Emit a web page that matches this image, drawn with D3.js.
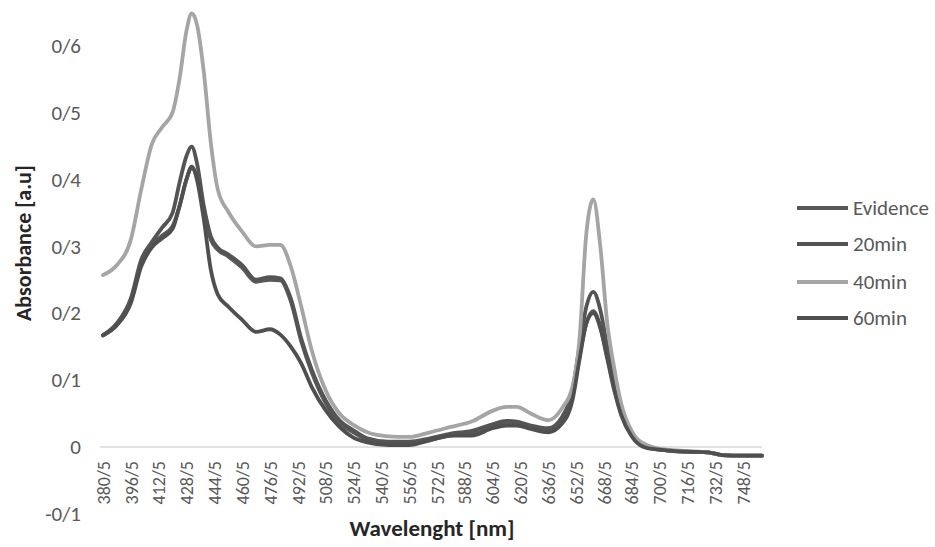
<!DOCTYPE html>
<html>
<head>
<meta charset="utf-8">
<script src="https://cdn.jsdelivr.net/npm/d3@7"></script>
<style>
  html, body { margin: 0; padding: 0; background: #fff; }
  svg { display: block; }
  text { font-family: Calibri, Carlito, "Open Sans", "Liberation Sans", sans-serif; }
</style>
</head>
<body>
<svg id="chart" width="935" height="547"></svg>
<script>
// Wavelengths (nm) at which absorbance was sampled
const wavelengths = [380.5, 388.5, 396.5, 402.5, 408.5, 414.5, 420.5, 424.5, 428.5, 431.5,
  434.5, 438.5, 442.5, 446.5, 452.5, 460.5, 468.5, 476.5, 482.5, 488.5,
  494.5, 500.5, 508.5, 516.5, 524.5, 532.5, 544.5, 556.5, 568.5, 580.5,
  592.5, 604.5, 612.5, 618.5, 626.5, 636.5, 644.5, 650.5, 654.5, 658.5,
  662.5, 666.5, 670.5, 674.5, 678.5, 684.5, 692.5, 704.5, 716.5, 728.5,
  736.5, 748.5, 759.5];

const evidence = [0.167, 0.183, 0.218, 0.275, 0.302, 0.316, 0.330, 0.360, 0.400, 0.417,
  0.405, 0.355, 0.310, 0.295, 0.285, 0.268, 0.247, 0.250, 0.249, 0.218,
  0.158, 0.112, 0.066, 0.036, 0.022, 0.011, 0.006, 0.006, 0.011, 0.017,
  0.021, 0.030, 0.034, 0.034, 0.029, 0.024, 0.038, 0.075, 0.135, 0.185,
  0.203, 0.180, 0.135, 0.088, 0.050, 0.018, 0.000, -0.005, -0.007, -0.008,
  -0.012, -0.013, -0.013];

const min20 = [0.167, 0.185, 0.222, 0.280, 0.306, 0.328, 0.350, 0.395, 0.435, 0.449,
  0.425, 0.360, 0.315, 0.298, 0.288, 0.272, 0.250, 0.254, 0.252, 0.222,
  0.162, 0.116, 0.070, 0.040, 0.025, 0.013, 0.008, 0.008, 0.013, 0.020,
  0.024, 0.034, 0.039, 0.038, 0.032, 0.028, 0.045, 0.085, 0.150, 0.210,
  0.232, 0.205, 0.150, 0.098, 0.055, 0.020, 0.001, -0.005, -0.007, -0.008,
  -0.012, -0.013, -0.013];

const min40 = [0.257, 0.272, 0.310, 0.385, 0.452, 0.478, 0.500, 0.550, 0.622, 0.648,
  0.632, 0.560, 0.455, 0.385, 0.352, 0.322, 0.300, 0.302, 0.302, 0.270,
  0.210, 0.145, 0.085, 0.050, 0.033, 0.022, 0.016, 0.015, 0.022, 0.030,
  0.038, 0.054, 0.060, 0.060, 0.050, 0.040, 0.058, 0.090, 0.160, 0.320,
  0.370, 0.300, 0.185, 0.118, 0.065, 0.024, 0.004, -0.004, -0.006, -0.008,
  -0.012, -0.013, -0.013];

const min60 = [0.167, 0.182, 0.215, 0.270, 0.298, 0.312, 0.326, 0.360, 0.400, 0.419,
  0.400, 0.340, 0.265, 0.228, 0.210, 0.190, 0.172, 0.176, 0.168, 0.150,
  0.125, 0.090, 0.055, 0.030, 0.014, 0.007, 0.003, 0.003, 0.010, 0.017,
  0.017, 0.028, 0.032, 0.032, 0.027, 0.022, 0.035, 0.070, 0.130, 0.185,
  0.200, 0.178, 0.132, 0.085, 0.048, 0.016, -0.001, -0.005, -0.007, -0.008,
  -0.012, -0.013, -0.013];

const seriesNames = ["Evidence", "20min", "40min", "60min"];
const seriesValues = [evidence, min20, min40, min60];
const seriesColors = ["#595959", "#545454", "#a5a5a5", "#4f4f4f"];

// Category labels shown along the wavelength axis
const xTicks = [380.5, 396.5, 412.5, 428.5, 444.5, 460.5, 476.5, 492.5, 508.5, 524.5,
  540.5, 556.5, 572.5, 588.5, 604.5, 620.5, 636.5, 652.5, 668.5, 684.5,
  700.5, 716.5, 732.5, 748.5];
const yTicks = [-0.1, 0, 0.1, 0.2, 0.3, 0.4, 0.5, 0.6];

const svg = d3.select("#chart");

// Locale with "/" as the decimal separator and a plain hyphen minus
const fa = d3.formatLocale({ decimal: "/", thousands: ",", grouping: [3], currency: ["", ""], minus: "-" });
const fmtY = fa.format(".1~f");
const fmtX = fa.format(".1f");

const x = d3.scaleLinear().domain([380.5, 759.5]).range([103, 762]);
const y = d3.scaleLinear().domain([-0.1, 0.6]).range([513.9, 45.6]);

const labelColor = "#595959";

// Y axis labels (no axis line)
const yAxis = svg.append("g")
  .attr("transform", "translate(81,0)")
  .call(d3.axisLeft(y).tickValues(yTicks).tickFormat(fmtY).tickSize(0).tickPadding(0));
yAxis.select(".domain").remove();
yAxis.selectAll("text")
  .attr("fill", labelColor)
  .style("font-size", "21px");

// Zero baseline
svg.append("line")
  .attr("x1", x(380.5) - 3).attr("x2", x(759.5))
  .attr("y1", y(0)).attr("y2", y(0))
  .attr("stroke", "#d9d9d9").attr("stroke-width", 1.5);

// X axis labels, rotated
const xAxis = svg.append("g")
  .attr("transform", `translate(0,${y(0)})`)
  .call(d3.axisBottom(x).tickValues(xTicks).tickFormat(fmtX).tickSize(0));
xAxis.select(".domain").remove();
xAxis.selectAll("text")
  .attr("fill", labelColor)
  .style("font-size", "18px")
  .attr("y", 0)
  .attr("x", -14)
  .attr("dy", "0.35em")
  .attr("transform", "rotate(-90)")
  .style("text-anchor", "end");

// Spectra
const line = d3.line()
  .x(d => x(d[0]))
  .y(d => y(d[1]))
  .curve(d3.curveMonotoneX);

seriesValues.forEach((vals, i) => {
  svg.append("path")
    .datum(wavelengths.map((w, k) => [w, vals[k]]))
    .attr("fill", "none")
    .attr("stroke", seriesColors[i])
    .attr("stroke-width", 3.8)
    .attr("stroke-linejoin", "round")
    .attr("stroke-linecap", "round")
    .attr("d", line);
});

// Legend
const legend = svg.append("g");
const legendY = [208, 244, 282, 318];
seriesNames.forEach((name, i) => {
  legend.append("line")
    .attr("x1", 797).attr("x2", 848)
    .attr("y1", legendY[i]).attr("y2", legendY[i])
    .attr("stroke", seriesColors[i]).attr("stroke-width", 3.8);
  legend.append("text")
    .attr("x", 853).attr("y", legendY[i])
    .attr("dy", "0.35em")
    .attr("fill", labelColor)
    .style("font-size", "21px")
    .text(name);
});

// Axis titles
svg.append("text")
  .attr("x", 432).attr("y", 536)
  .attr("text-anchor", "middle")
  .attr("fill", "#262626")
  .style("font-size", "23px").style("font-weight", "bold")
  .text("Wavelenght [nm]");

svg.append("text")
  .attr("transform", "translate(31,243) rotate(-90)")
  .attr("text-anchor", "middle")
  .attr("fill", "#262626")
  .style("font-size", "22px").style("font-weight", "bold")
  .text("Absorbance [a.u]");
</script>
</body>
</html>
